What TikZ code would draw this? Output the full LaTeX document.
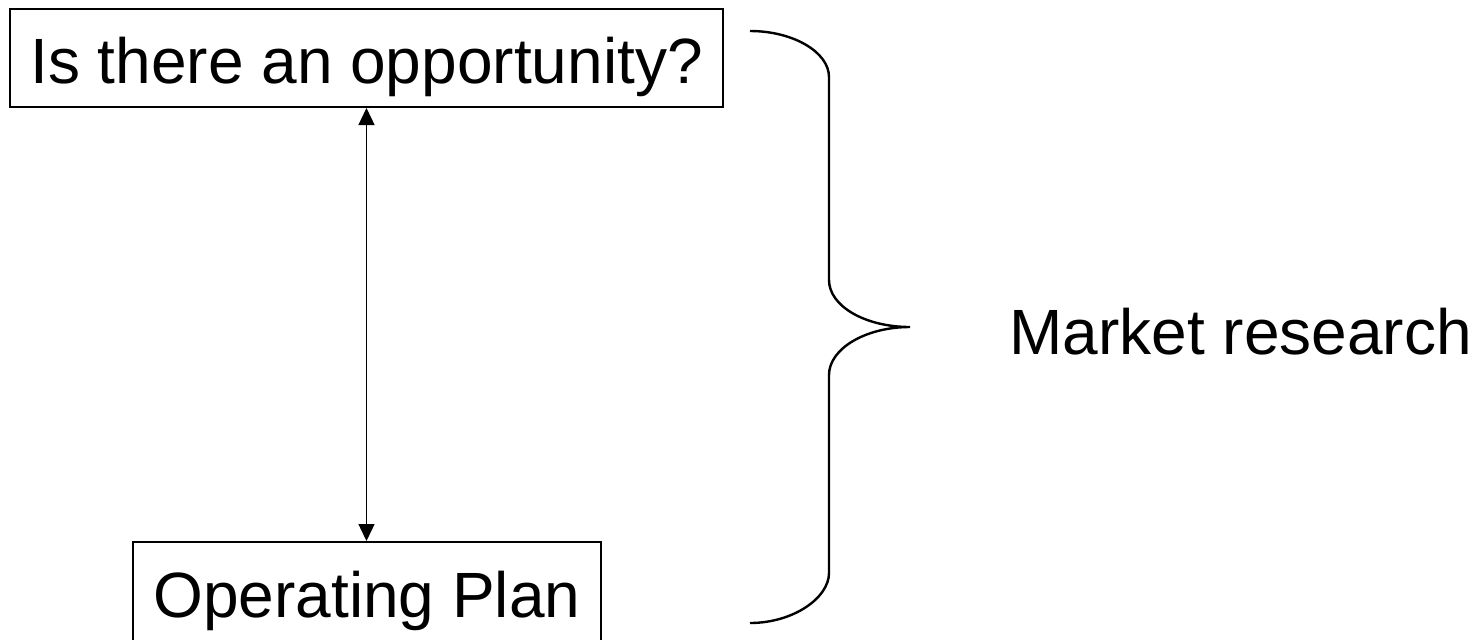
\documentclass[tikz,border=0pt]{standalone}
\usepackage{fontspec}
\setmainfont{Liberation Sans}
\usetikzlibrary{arrows.meta}
\begin{document}
\begin{tikzpicture}[x=0.5pt,y=-0.5pt,
  boxnode/.style={draw=black,line width=1pt,inner sep=0pt,font=\fontsize{32}{38}\selectfont},
  lbl/.style={inner sep=0pt,font=\fontsize{32}{38}\selectfont},
  link/.style={line width=0.7pt,{Triangle[length=8.5pt,width=8pt]}-{Triangle[length=8.5pt,width=8pt]}},
  bracestyle/.style={line width=1.2pt}]
\useasboundingbox[fill=white] (0,0) rectangle (1480,639);
\clip (0,0) rectangle (1480,639);
\node[boxnode,minimum width=356.5pt,minimum height=49pt,text height=30pt,text depth=5pt] (top) at (366.5,58) {Is there an opportunity?};
\node[boxnode,minimum width=234pt,minimum height=50pt,text height=30pt,text depth=5pt] (bot) at (367,592) {Operating Plan};
\draw[link] (top.south) -- (top.south |- bot.north);
\node[lbl,anchor=base west] (mr) at (1009,354) {Market research};
\draw[bracestyle] (750,31) .. controls (793,31) and (829,52) .. (829,77)
  -- (829,280) .. controls (829,306) and (865,327) .. (910,327)
  .. controls (865,327) and (829,349) .. (829,375)
  -- (829,573) .. controls (829,598) and (793,623) .. (750,623);
\end{tikzpicture}
\end{document}
